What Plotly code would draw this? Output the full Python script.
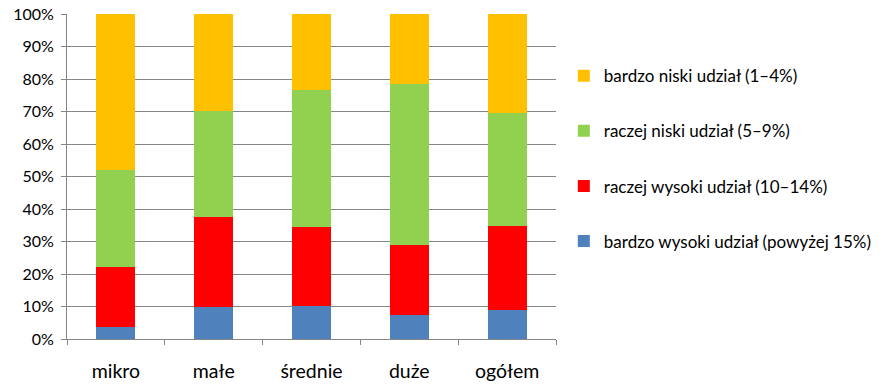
import plotly.graph_objects as go

categories = ["mikro", "małe", "średnie", "duże", "ogółem"]
series_names = [
    "bardzo wysoki udział (powyżej 15%)",
    "raczej wysoki udział (10–14%)",
    "raczej niski udział (5–9%)",
    "bardzo niski udział (1–4%)",
]
bardzo_wysoki = [3.8, 9.7, 10.3, 7.3, 9.0]
raczej_wysoki = [18.5, 27.9, 24.3, 21.5, 25.9]
raczej_niski = [29.7, 32.5, 42.1, 49.6, 34.6]
bardzo_niski = [48.0, 29.9, 23.3, 21.6, 30.5]
y_ticks = [0, 10, 20, 30, 40, 50, 60, 70, 80, 90, 100]
y_labels = [f"{v}%" for v in y_ticks]

colors = ["#4F81BD", "#FF0000", "#92D050", "#FFC000"]
values = [bardzo_wysoki, raczej_wysoki, raczej_niski, bardzo_niski]
legend_ranks = [4, 3, 2, 1]

font_family = "Lato, 'Open Sans', sans-serif"

fig = go.Figure()
for name, vals, col, rank in zip(series_names, values, colors, legend_ranks):
    fig.add_trace(go.Bar(
        x=categories, y=vals, name=name, marker_color=col,
        marker_line_width=0, legendgroup=name, legendrank=rank,
    ))

fig.update_layout(
    barmode="stack",
    barnorm="percent",
    bargap=0.6,
    width=883, height=390,
    margin=dict(l=67, r=327, t=14, b=51, autoexpand=False),
    plot_bgcolor="white", paper_bgcolor="white",
    font=dict(family=font_family, size=16, color="#000000"),
    legend=dict(
        traceorder="grouped",
        x=1.016, xanchor="left", y=0.555, yanchor="middle",
        xref="paper",
        font=dict(size=17, family=font_family),
        tracegroupgap=30,
        itemwidth=30,
    ),
    showlegend=True,
)
fig.update_xaxes(
    showline=True, linecolor="#868686", linewidth=1,
    ticks="outside", tickson="boundaries", ticklen=5, tickcolor="#868686",
    ticklabelstandoff=15,
    tickfont=dict(size=19.5),
    showgrid=False,
)
fig.update_yaxes(
    range=[0, 100], tickvals=y_ticks, ticktext=y_labels,
    showline=True, linecolor="#868686", linewidth=1,
    ticks="outside", ticklen=5, tickcolor="#868686",
    showgrid=True, gridcolor="#868686", gridwidth=1,
    ticklabelstandoff=4,
    zeroline=False,
)

fig.write_html(
    "out.html",
    config={"displayModeBar": False},
    post_script="document.body.style.margin='0';document.body.style.padding='0';",
)
